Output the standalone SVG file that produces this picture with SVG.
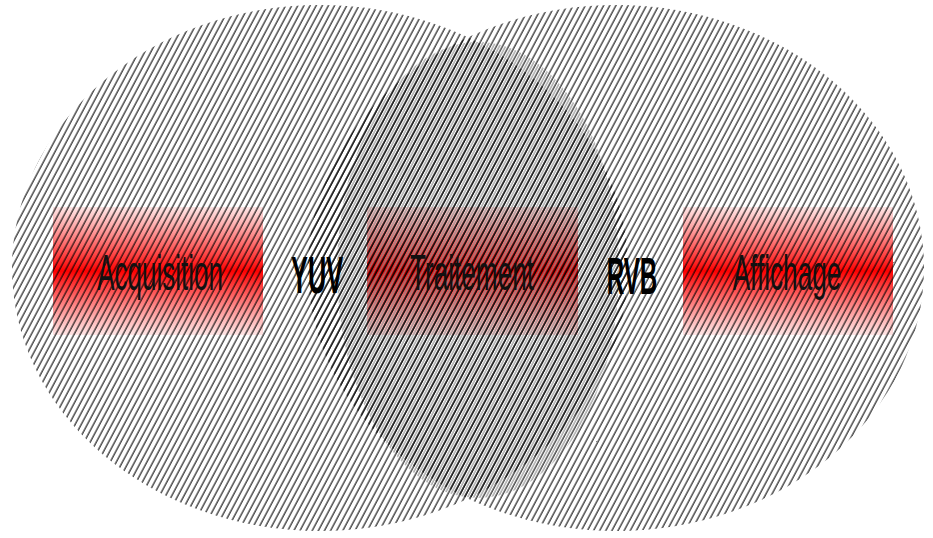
<svg xmlns="http://www.w3.org/2000/svg" width="933" height="538" viewBox="0 0 933 538">
  <defs>
    <pattern id="hatch" patternUnits="userSpaceOnUse" width="5.4" height="20" patternTransform="rotate(28)">
      <line x1="1" y1="-2" x2="1" y2="22" stroke="#000" stroke-width="1.05"/>
    </pattern>
    <pattern id="hatchGrey" patternUnits="userSpaceOnUse" width="5.4" height="20" patternTransform="rotate(28)">
      <line x1="3.7" y1="-2" x2="3.7" y2="22" stroke="#8c8c8c" stroke-width="1.1"/>
    </pattern>
    <linearGradient id="redGrad" x1="0" y1="0" x2="0" y2="1">
      <stop offset="0" stop-color="#ff3030" stop-opacity="0.12"/>
      <stop offset="0.5" stop-color="#ff0000" stop-opacity="1"/>
      <stop offset="1" stop-color="#ff3030" stop-opacity="0.12"/>
    </linearGradient>
    <linearGradient id="redGradDark" x1="0" y1="0" x2="0" y2="1">
      <stop offset="0" stop-color="#f03030" stop-opacity="0.2"/>
      <stop offset="0.5" stop-color="#e00000" stop-opacity="1"/>
      <stop offset="1" stop-color="#f03030" stop-opacity="0.2"/>
    </linearGradient>
  </defs>
  <style>
    .box { fill: url(#redGrad); }
    .boxMid { fill: url(#redGradDark); }
    .lbl { font-family: "Liberation Sans", Arial, sans-serif; font-size: 50px; fill: #111; text-anchor: middle; }
    .fmt { font-family: "Liberation Sans", Arial, sans-serif; font-size: 52px; font-weight: bold; fill: #000; text-anchor: middle; }
  </style>
  <rect width="933" height="538" fill="#fff"/>

  <g id="acquisition-box"><rect class="box" x="53" y="207" width="210" height="128"/></g>
  <g id="traitement-box"><rect class="boxMid" x="367" y="207" width="211" height="128"/></g>
  <g id="affichage-box"><rect class="box" x="683" y="207" width="210" height="128"/></g>

  <g id="background">
    <ellipse cx="320" cy="268" rx="308" ry="263" fill="url(#hatch)"/>
    <ellipse cx="616" cy="268" rx="308" ry="263" fill="url(#hatch)"/>
    <ellipse cx="478" cy="270" rx="141" ry="228" fill="url(#hatchGrey)"/>
  </g>

  <g id="acquisition"><text class="lbl" transform="translate(160 290) scale(0.52 1)">Acquisition</text></g>
  <g id="traitement"><text class="lbl" transform="translate(472 290) scale(0.523 1)">Traitement</text></g>
  <g id="affichage"><text class="lbl" transform="translate(787 290) scale(0.524 1)">Affichage</text></g>

  <g id="connectors">
    <text class="fmt" transform="translate(317 293) scale(0.486 1)">YUV</text>
    <text class="fmt" transform="translate(632 294) scale(0.465 1)">RVB</text>
  </g>
</svg>
